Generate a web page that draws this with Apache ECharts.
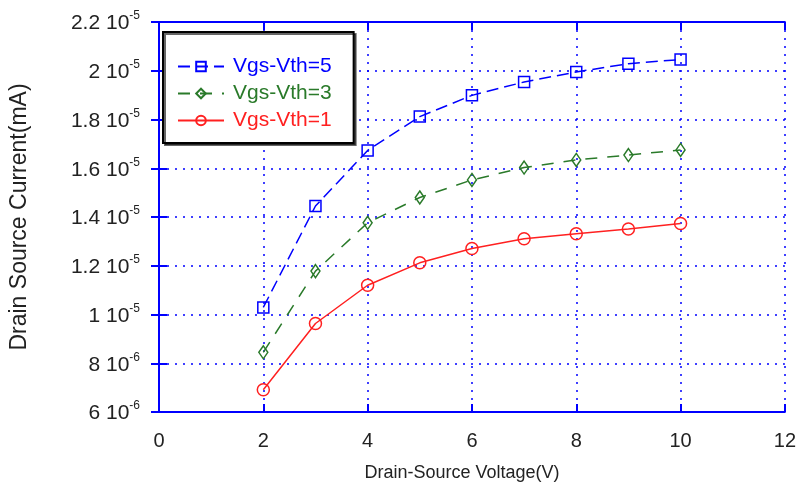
<!DOCTYPE html>
<html>
<head>
<meta charset="utf-8">
<script src="https://cdn.jsdelivr.net/npm/echarts@6/dist/echarts.min.js"></script>
<style>
html, body { margin: 0; padding: 0; background: #fff; }
#chart { width: 799px; height: 487px; }
</style>
</head>
<body>
<div id="chart"></div>
<script>
// values
const xValues = [2, 3, 4, 5, 6, 7, 8, 9, 10];
const vgs5 = [1.029e-5, 1.445e-5, 1.673e-5, 1.812e-5, 1.899e-5, 1.954e-5, 1.995e-5, 2.029e-5, 2.046e-5];
const vgs3 = [8.45e-6, 1.178e-5, 1.376e-5, 1.480e-5, 1.552e-5, 1.603e-5, 1.634e-5, 1.654e-5, 1.675e-5];
const vgs1 = [6.91e-6, 9.63e-6, 1.120e-5, 1.212e-5, 1.271e-5, 1.311e-5, 1.331e-5, 1.351e-5, 1.373e-5];
const seriesNames = ['Vgs-Vth=5', 'Vgs-Vth=3', 'Vgs-Vth=1'];
const xTicks = { min: 0, max: 12, step: 2 };
const yTicks = { min: 6e-6, max: 2.2e-5, step: 2e-6 };

const BLUE = '#0000ff';
const GREEN = '#2a7a2a';
const RED = '#ff2020';
const FONT = '"Liberation Sans", Arial, sans-serif';

function pair(xs, ys) {
    return xs.map((x, i) => [x, ys[i]]);
}

// "2.2 10^-5" style tick label
function sciLabel(v) {
    const exp = Math.floor(Math.log10(v) + 1e-9);
    const mant = Math.round(v / Math.pow(10, exp) * 10) / 10;
    return '{m|' + mant + ' 10}{e|' + exp + '}';
}

const chart = echarts.init(document.getElementById('chart'), null, { renderer: 'canvas' });

const frameLine = { show: true, lineStyle: { color: BLUE, width: 2 } };
const frameTick = { show: true, inside: true, length: 8, lineStyle: { color: BLUE, width: 2 } };
const gridLine = { show: true, lineStyle: { color: BLUE, width: 1.5, type: [2, 6] } };

const option = {
    animation: false,
    backgroundColor: '#fff',
    grid: { left: 157, right: 14, top: 22, bottom: 72 },
    legend: {
        orient: 'vertical',
        left: 163,
        top: 32,
        itemWidth: 46,
        itemHeight: 12,
        itemGap: 6,
        padding: [24, 22, 12, 14],
        backgroundColor: '#fff',
        borderColor: '#000',
        borderWidth: 2,
        shadowColor: 'rgba(0,0,0,0.6)',
        shadowOffsetX: 2,
        shadowOffsetY: 2,
        textStyle: { fontFamily: FONT, fontSize: 21, padding: [0, 0, 0, 4] },
        data: [
            { name: seriesNames[0], textStyle: { color: BLUE } },
            { name: seriesNames[1], textStyle: { color: GREEN } },
            { name: seriesNames[2], textStyle: { color: RED } }
        ]
    },
    xAxis: [{
        type: 'value',
        min: xTicks.min, max: xTicks.max, interval: xTicks.step,
        name: 'Drain-Source Voltage(V)',
        nameLocation: 'middle',
        nameGap: 52,
        nameTextStyle: { fontFamily: FONT, fontSize: 18, color: '#222', padding: [0, 20, 0, 0] },
        axisLine: frameLine,
        axisTick: frameTick,
        axisLabel: { fontFamily: FONT, fontSize: 20, color: '#222', margin: 19 },
        splitLine: gridLine
    }, {
        type: 'value',
        position: 'top',
        min: xTicks.min, max: xTicks.max, interval: xTicks.step,
        axisLine: frameLine,
        axisTick: frameTick,
        axisLabel: { show: false },
        splitLine: { show: false }
    }],
    yAxis: [{
        type: 'value',
        min: yTicks.min, max: yTicks.max, interval: yTicks.step,
        name: 'Drain Source Current(mA)',
        nameLocation: 'middle',
        nameGap: 128,
        nameRotate: 90,
        nameTextStyle: { fontFamily: FONT, fontSize: 23, color: '#222' },
        axisLine: frameLine,
        axisTick: frameTick,
        axisLabel: {
            margin: 19,
            formatter: sciLabel,
            rich: {
                m: { fontFamily: FONT, fontSize: 21, color: '#222', lineHeight: 24, verticalAlign: 'bottom' },
                e: { fontFamily: FONT, fontSize: 12, color: '#222', lineHeight: 24, verticalAlign: 'top' }
            }
        },
        splitLine: gridLine
    }, {
        type: 'value',
        position: 'right',
        min: yTicks.min, max: yTicks.max, interval: yTicks.step,
        axisLine: frameLine,
        axisTick: frameTick,
        axisLabel: { show: false },
        splitLine: { show: false }
    }],
    series: [{
        name: seriesNames[0],
        type: 'line',
        data: pair(xValues, vgs5),
        symbol: 'rect',
        symbolSize: 11,
        lineStyle: { color: BLUE, width: 1.5, type: [12, 6] },
        itemStyle: { color: 'rgba(255,255,255,0)', borderColor: BLUE, borderWidth: 1.5 }
    }, {
        name: seriesNames[1],
        type: 'line',
        data: pair(xValues, vgs3),
        symbol: 'diamond',
        symbolSize: [9, 13],
        lineStyle: { color: GREEN, width: 1.5, type: [12, 10] },
        itemStyle: { color: 'rgba(255,255,255,0)', borderColor: GREEN, borderWidth: 1.5 }
    }, {
        name: seriesNames[2],
        type: 'line',
        data: pair(xValues, vgs1),
        symbol: 'circle',
        symbolSize: 12,
        lineStyle: { color: RED, width: 1.5 },
        itemStyle: { color: 'rgba(255,255,255,0)', borderColor: RED, borderWidth: 1.5 }
    }]
};

chart.setOption(option);
</script>
</body>
</html>
